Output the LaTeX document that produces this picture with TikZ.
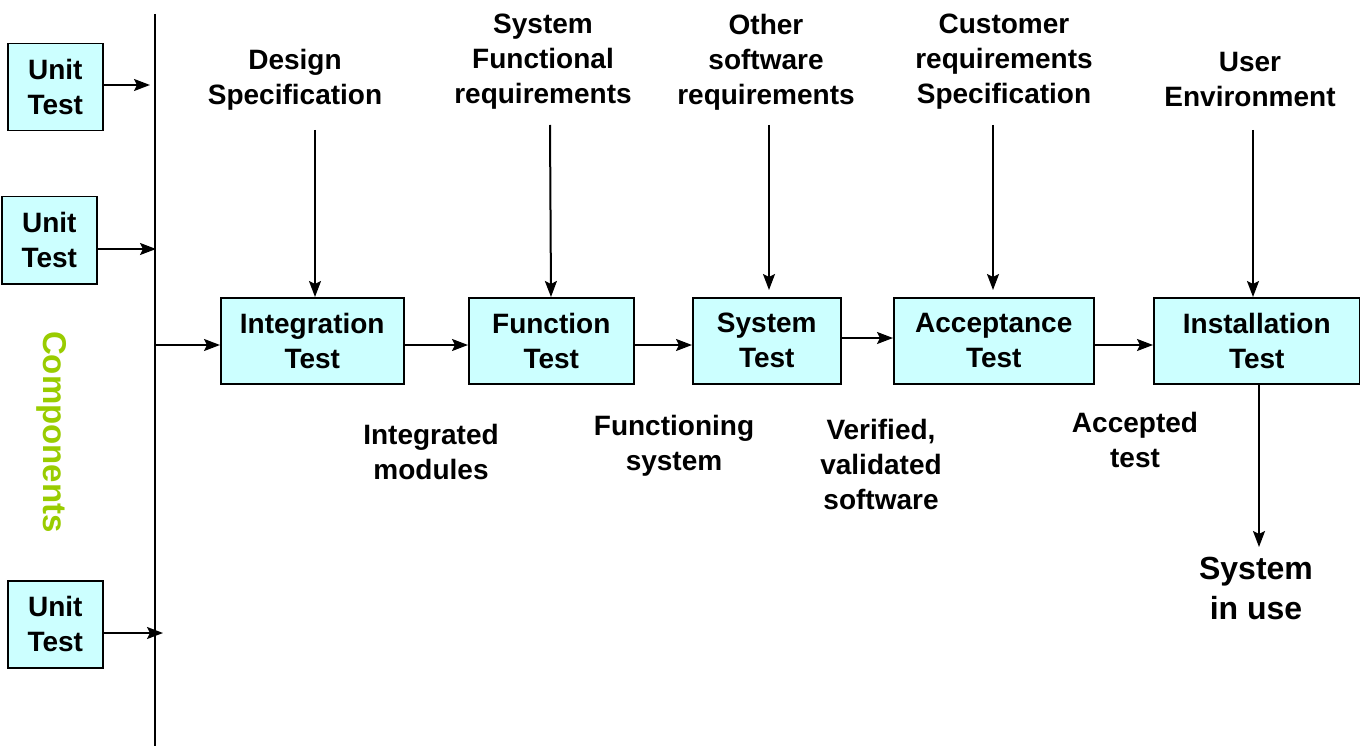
\documentclass[tikz,border=0pt]{standalone}
\usepackage{fontspec}
\setmainfont{Liberation Sans}
\usetikzlibrary{arrows.meta}
\definecolor{boxfill}{HTML}{CCFFFF}
\definecolor{compgreen}{HTML}{99CC00}
\begin{document}
\begin{tikzpicture}[x=1pt,y=-1pt,
  txt/.style={font=\fontsize{28}{35}\selectfont\bfseries, align=center, inner sep=0pt},
  tbox/.style={draw, line width=1.5pt, fill=boxfill, txt, anchor=north west},
  arr/.style={line width=2pt, -{Stealth[length=16pt,width=12pt,inset=3pt]}}]
\useasboundingbox (0,0) rectangle (1360,746);
% unit tests
\node[tbox, minimum width=95pt, minimum height=87pt] (u1) at (7,43) {Unit\\Test};
\node[tbox, minimum width=95pt, minimum height=87pt] (u2) at (1,196) {Unit\\Test};
\node[tbox, minimum width=95pt, minimum height=87pt] (u3) at (7,580) {Unit\\Test};
\coordinate (vt) at (155,14); \coordinate (vb) at (155,746);
\draw[line width=2pt] (vt) -- (vb);
\coordinate (e1) at (150,85); \coordinate (e2) at (156,249); \coordinate (e3) at (163,633);
\draw[arr] (u1.east |- e1) -- (e1);
\draw[arr] (u2.east |- e2) -- (e2);
\draw[arr] (u3.east |- e3) -- (e3);
\node[txt, text=compgreen, font=\fontsize{33}{40}\selectfont\bfseries, rotate=-90] (comp) at (52,432) {Components};
% main boxes
\node[tbox, minimum width=183pt, minimum height=86pt] (it) at (220,297) {Integration\\Test};
\node[tbox, minimum width=165pt, minimum height=86pt] (ft) at (468,297) {Function\\Test};
\node[tbox, minimum width=148pt, minimum height=86pt] (st) at (692,297) {System\\Test};
\node[tbox, minimum width=200pt, minimum height=86pt] (at) at (893,297) {Acceptance\\Test};
\node[tbox, minimum width=206pt, minimum height=86pt] (inst) at (1153,297) {Installation\\Test};
\coordinate (ls) at (155,345);
\draw[arr] (ls) -- (it.west |- ls);
\draw[arr] (it.east |- ls) -- (ft.west |- ls);
\draw[arr] (ft.east |- ls) -- (st.west |- ls);
\coordinate (l3) at (840,338);
\draw[arr] (l3) -- (at.west |- l3);
\draw[arr] (at.east |- ls) -- (inst.west |- ls);
% top labels
\node[txt] (d) at (295,80) {Design\\Specification};
\node[txt] (sf) at (543,62) {System\\Functional\\requirements};
\node[txt] (os) at (766,62) {Other\\software\\requirements};
\node[txt] (cr) at (1004,62) {Customer\\requirements\\Specification};
\node[txt] (ue) at (1250,80) {User\\Environment};
\draw[arr] (315,130) -- (it.north -| 315,0);
\draw[arr] (550,125) -- (ft.north -| 551,0);
\draw[arr] (769,125) -- (769,290);
\draw[arr] (993,125) -- (993,290);
\draw[arr] (1253,130) -- (inst.north -| 1253,0);
% bottom labels
\node[txt] (im) at (431,452) {Integrated\\modules};
\node[txt] (fs) at (674,446) {Functioning\\system};
\node[txt] (vv) at (881,464) {Verified,\\validated\\software};
\node[txt] (ac) at (1135,440) {Accepted\\test};
\node[txt, font=\fontsize{32}{40}\selectfont\bfseries] (siu) at (1256,588) {System\\in use};
\draw[arr] (inst.south -| 1259,0) -- (1259,547);
\end{tikzpicture}
\end{document}
